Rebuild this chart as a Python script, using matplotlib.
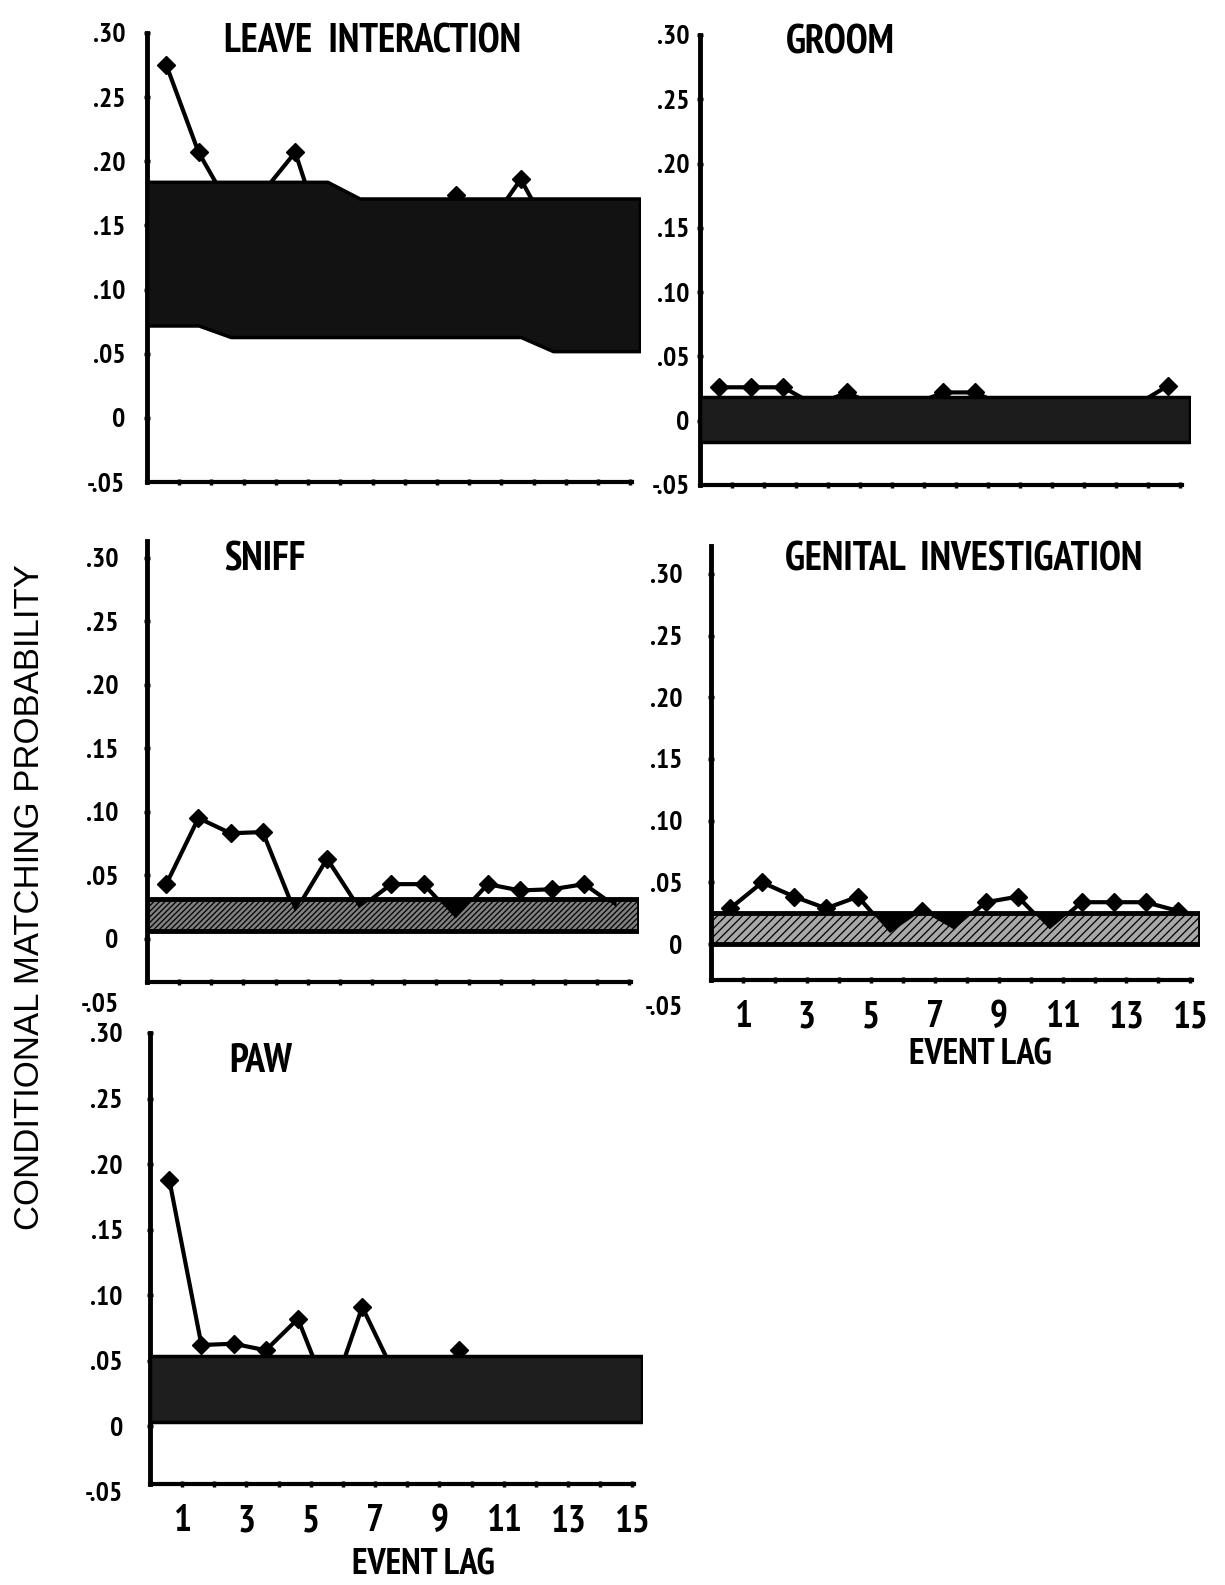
"""Conditional matching probability by event lag, five behaviour panels."""

import matplotlib

matplotlib.use("Agg")
import matplotlib.pyplot as plt
import numpy as np

W, H = 1225, 1585

NARROW = ["PT Sans Narrow", "Roboto Condensed", "Liberation Sans Narrow", "DejaVu Sans"]
REGULAR = ["Liberation Sans", "DejaVu Sans"]

LAGS = np.arange(1, 16)
POINT_SHIFT = -0.4   # markers sit a little left of each lag tick
BAND_END = 15.3
Y_TICKS = [-0.05, 0.0, 0.05, 0.10, 0.15, 0.20, 0.25, 0.30]
Y_TICK_LABELS = ["-.05", "0", ".05", ".10", ".15", ".20", ".25", ".30"]
X_TICK_LABELS = [str(v) if v % 2 else "" for v in LAGS]

# observed matching probability at lags 1..15, and chance band (lower/upper)
leave_prob = [0.275, 0.207, 0.163, 0.176, 0.207, 0.130, 0.140, 0.150,
              0.155, 0.174, 0.150, 0.186, 0.140, 0.130, 0.120]
leave_upper = [0.184] * 6 + [0.171] * 9
leave_lower = [0.072, 0.072] + [0.063] * 10 + [0.052] * 3

groom_prob = [0.026, 0.026, 0.026, 0.012, 0.022, 0.010, 0.012, 0.022,
              0.022, 0.010, 0.008, 0.012, 0.010, 0.012, 0.027]
groom_upper = [0.0185] * 15
groom_lower = [-0.0165] * 15

sniff_prob = [0.043, 0.095, 0.083, 0.084, 0.021, 0.063, 0.024, 0.043,
              0.043, 0.016, 0.043, 0.038, 0.039, 0.043, 0.025]
sniff_upper = [0.031] * 15
sniff_lower = [0.0065] * 15

genital_prob = [0.029, 0.050, 0.0385, 0.029, 0.0385, 0.009, 0.027, 0.012,
                0.034, 0.0385, 0.012, 0.034, 0.034, 0.034, 0.027]
genital_upper = [0.025] * 15
genital_lower = [0.0] * 15

paw_prob = [0.188, 0.062, 0.063, 0.058, 0.082, 0.020, 0.091, 0.040,
            0.020, 0.058, 0.010, 0.030, 0.015, 0.045, 0.030]
paw_upper = [0.054] * 15
paw_lower = [0.003] * 15

# layout in reference pixels: spine left, band right, spine top, x-axis y
PANELS = [
    dict(title="LEAVE  INTERACTION", prob=leave_prob, upper=leave_upper,
         lower=leave_lower, box=(147, 640, 33, 482), top=0.30, floor=-0.05,
         face="#121212", hatch=None, pad=13, title_xy=(224, 42), xlabel=None),
    dict(title="GROOM", prob=groom_prob, upper=groom_upper, lower=groom_lower,
         box=(700, 1190, 35, 485), top=0.30, floor=-0.05,
         face="#1c1c1c", hatch=None, pad=5, title_xy=(786, 43), xlabel=None),
    dict(title="SNIFF", prob=sniff_prob, upper=sniff_upper, lower=sniff_lower,
         box=(147, 639, 541, 982), top=0.313, floor=-0.034,
         face="#808080", hatch="//////", pad=18, title_xy=(224, 560), xlabel=None),
    dict(title="GENITAL  INVESTIGATION", prob=genital_prob, upper=genital_upper,
         lower=genital_lower, box=(711, 1200, 546, 980), top=0.3225, floor=-0.029,
         face="#a8a8a8", hatch="////", pad=18, title_xy=(785, 560),
         xlabel=(980, 1055)),
    dict(title="PAW", prob=paw_prob, upper=paw_upper, lower=paw_lower,
         box=(150, 642, 1033, 1484), top=0.30, floor=-0.044,
         face="#1e1e1e", hatch=None, pad=17, title_xy=(229, 1062),
         xlabel=(423, 1565)),
]

plt.rcParams["hatch.linewidth"] = 0.9
plt.rcParams["hatch.color"] = "black"


def draw_panel(fig, p):
    left, right, top_px, floor_px = p["box"]
    ppu = (floor_px - top_px) / (p["top"] - p["floor"])
    bottom_px = floor_px + (p["floor"] - Y_TICKS[0]) * ppu
    ax = fig.add_axes([left / W, 1 - bottom_px / H,
                       (right - left) / W, (bottom_px - top_px) / H])
    ax.set_xlim(0, BAND_END)
    ax.set_ylim(Y_TICKS[0], p["top"])

    xs = LAGS + POINT_SHIFT
    prob = np.array(p["prob"])
    upper = np.array(p["upper"])
    lower = np.array(p["lower"])

    ax.plot(xs, prob, color="black", lw=3.0, marker="D", ms=9,
            solid_joinstyle="round", zorder=2, clip_on=False)

    bx = np.concatenate([[0], xs, [BAND_END]])
    bu = np.concatenate([[upper[0]], upper, [upper[-1]]])
    bl = np.concatenate([[lower[0]], lower, [lower[-1]]])
    ax.fill_between(bx, bl, bu, facecolor=p["face"], hatch=p["hatch"],
                    edgecolor="black", linewidth=3.5 if p["hatch"] else 2.5,
                    zorder=3)

    if p["hatch"]:
        # dark wedge between the band top and the observed line where it dips in
        fine = np.linspace(xs[0], xs[-1], 600)
        line_f = np.interp(fine, xs, prob)
        up_f = np.interp(fine, bx, bu)
        ax.fill_between(fine, np.minimum(line_f, up_f), up_f,
                        where=line_f < up_f, color="black", linewidth=0,
                        zorder=3.5)

    for side in ("top", "right"):
        ax.spines[side].set_visible(False)
    ax.spines["left"].set_linewidth(3.5)
    ax.spines["left"].set_bounds(p["floor"], p["top"])
    ax.spines["bottom"].set_linewidth(3.0)
    ax.spines["bottom"].set_position(("data", p["floor"]))
    ax.spines["bottom"].set_bounds(0, 15.05)

    ax.set_yticks(Y_TICKS)
    ax.set_yticklabels(Y_TICK_LABELS, fontfamily=NARROW, fontweight="bold",
                       fontsize=20)
    ax.tick_params(axis="y", direction="inout", length=5, width=2.5,
                   pad=p["pad"])
    ax.yaxis.get_major_ticks()[0].tick1line.set_visible(False)

    ax.set_xticks(LAGS)
    ax.set_xticklabels(X_TICK_LABELS if p["xlabel"] else [""] * len(LAGS),
                       fontfamily=NARROW, fontweight="bold", fontsize=27)
    ax.tick_params(axis="x", direction="inout", length=5, width=2.5, pad=12)

    if p["xlabel"]:
        lx, ly = p["xlabel"]
        fig.text(lx / W, 1 - ly / H, "EVENT LAG", ha="center", va="center",
                 fontfamily=NARROW, fontweight="bold", fontsize=26)

    tx, ty = p["title_xy"]
    fig.text(tx / W, 1 - ty / H, p["title"], ha="left", va="center",
             fontfamily=NARROW, fontweight="bold", fontsize=28.5)
    return ax


def main():
    fig = plt.figure(figsize=(W / 100, H / 100), dpi=100)
    for p in PANELS:
        draw_panel(fig, p)
    fig.text(30 / W, 1 - 897 / H, "CONDITIONAL MATCHING PROBABILITY",
             rotation=90, ha="center", va="center", fontfamily=REGULAR,
             fontsize=25)
    fig.savefig("out.png", dpi=100, facecolor="white")
    plt.close(fig)


if __name__ == "__main__":
    main()
